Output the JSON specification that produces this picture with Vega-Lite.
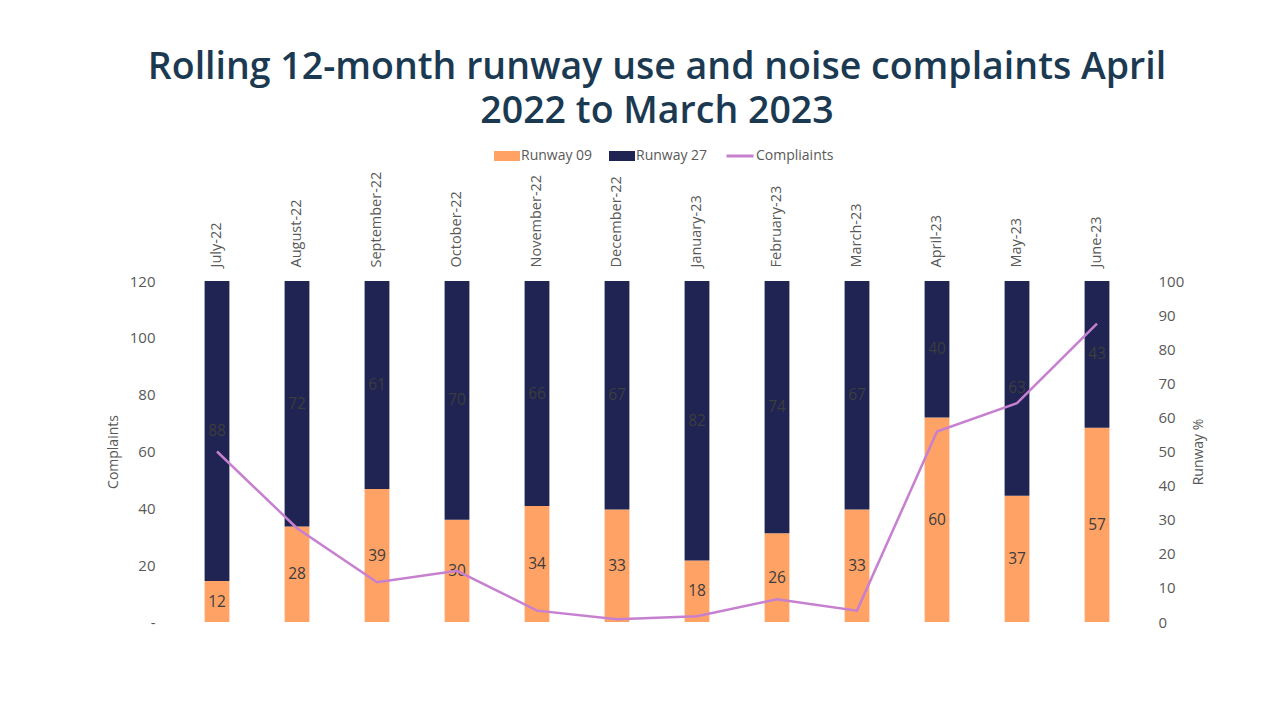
{
  "$schema": "https://vega.github.io/schema/vega-lite/v6.json",
  "width": 960,
  "height": 341,
  "autosize": {"type": "none"},
  "padding": {"left": 177, "top": 281, "right": 147, "bottom": 100},
  "background": "white",
  "config": {
    "view": {"stroke": null},
    "font": "Open Sans",
    "axis": {"domain": false, "ticks": false, "grid": false, "labelColor": "#595959", "titleColor": "#595959", "titleFontWeight": "normal", "labelFont": "Open Sans", "titleFont": "Open Sans", "labelOverlap": false}
  },
  "title": {
    "text": ["Rolling 12-month runway use and noise complaints April", "2022 to March 2023"],
    "font": "Open Sans",
    "fontSize": 37.5,
    "fontWeight": 600,
    "color": "#1b3a52",
    "anchor": "middle",
    "lineHeight": 44,
    "offset": 13,
    "dy": 2
  },
  "datasets": {
    "runway": [
      {"month": "July-22", "runway": "Runway 09", "pct": 12},
      {"month": "July-22", "runway": "Runway 27", "pct": 88},
      {"month": "August-22", "runway": "Runway 09", "pct": 28},
      {"month": "August-22", "runway": "Runway 27", "pct": 72},
      {"month": "September-22", "runway": "Runway 09", "pct": 39},
      {"month": "September-22", "runway": "Runway 27", "pct": 61},
      {"month": "October-22", "runway": "Runway 09", "pct": 30},
      {"month": "October-22", "runway": "Runway 27", "pct": 70},
      {"month": "November-22", "runway": "Runway 09", "pct": 34},
      {"month": "November-22", "runway": "Runway 27", "pct": 66},
      {"month": "December-22", "runway": "Runway 09", "pct": 33},
      {"month": "December-22", "runway": "Runway 27", "pct": 67},
      {"month": "January-23", "runway": "Runway 09", "pct": 18},
      {"month": "January-23", "runway": "Runway 27", "pct": 82},
      {"month": "February-23", "runway": "Runway 09", "pct": 26},
      {"month": "February-23", "runway": "Runway 27", "pct": 74},
      {"month": "March-23", "runway": "Runway 09", "pct": 33},
      {"month": "March-23", "runway": "Runway 27", "pct": 67},
      {"month": "April-23", "runway": "Runway 09", "pct": 60},
      {"month": "April-23", "runway": "Runway 27", "pct": 40},
      {"month": "May-23", "runway": "Runway 09", "pct": 37},
      {"month": "May-23", "runway": "Runway 27", "pct": 63},
      {"month": "June-23", "runway": "Runway 09", "pct": 57},
      {"month": "June-23", "runway": "Runway 27", "pct": 43}
    ],
    "complaints": [
      {"month": "July-22", "series": "Compliaints", "complaints": 60},
      {"month": "August-22", "series": "Compliaints", "complaints": 33},
      {"month": "September-22", "series": "Compliaints", "complaints": 14},
      {"month": "October-22", "series": "Compliaints", "complaints": 18},
      {"month": "November-22", "series": "Compliaints", "complaints": 4},
      {"month": "December-22", "series": "Compliaints", "complaints": 1},
      {"month": "January-23", "series": "Compliaints", "complaints": 2},
      {"month": "February-23", "series": "Compliaints", "complaints": 8},
      {"month": "March-23", "series": "Compliaints", "complaints": 4},
      {"month": "April-23", "series": "Compliaints", "complaints": 67},
      {"month": "May-23", "series": "Compliaints", "complaints": 77},
      {"month": "June-23", "series": "Compliaints", "complaints": 105}
    ]
  },
  "encoding": {
    "x": {
      "field": "month",
      "type": "nominal",
      "sort": null,
      "scale": {"paddingInner": 0.69, "paddingOuter": 0.345},
      "axis": {"orient": "top", "title": null, "labelAngle": -90, "labelFontSize": 14.5, "labelPadding": 14, "labelColor": "#595959"}
    }
  },
  "layer": [
    {
      "data": {"name": "runway"},
      "layer": [
        {
          "mark": {"type": "bar"},
          "encoding": {
            "y": {"field": "pct", "type": "quantitative", "stack": "zero", "scale": {"domain": [0, 100]}, "axis": {"orient": "right", "title": "Runway %", "titleAngle": 270, "values": [0,10,20,30,40,50,60,70,80,90,100], "labelFontSize": 15, "titleFontSize": 14, "labelPadding": 21, "titlePadding": 22}},
            "fill": {
              "field": "runway",
              "type": "nominal",
              "scale": {"domain": ["Runway 09", "Runway 27"], "range": ["#ffa265", "#1f2452"]},
              "legend": {"orient": "none", "direction": "horizontal", "legendX": 317, "legendY": -138, "title": null, "symbolType": "M-1,-0.385L1,-0.385L1,0.385L-1,0.385Z", "symbolSize": 676, "symbolStrokeWidth": 0, "labelFontSize": 14, "labelColor": "#595959", "labelOffset": 1, "columnPadding": 16, "labelFont": "Open Sans"}
            },
            "order": {"field": "runway", "sort": "ascending"}
          }
        },
        {
          "mark": {"type": "text", "fontSize": 15.5, "color": "#3d3d3d"},
          "encoding": {
            "y": {"field": "pct", "type": "quantitative", "stack": "zero", "bandPosition": 0.5, "axis": {"orient": "right", "title": "Runway %", "titleAngle": 270, "values": [0,10,20,30,40,50,60,70,80,90,100], "labelFontSize": 15, "titleFontSize": 14, "labelPadding": 21, "titlePadding": 22}},
            "text": {"field": "pct", "type": "quantitative"},
            "detail": {"field": "runway"},
            "order": {"field": "runway", "sort": "ascending"}
          }
        }
      ]
    },
    {
      "data": {"name": "complaints"},
      "mark": {"type": "line", "strokeWidth": 2.5},
      "encoding": {
        "y": {"field": "complaints", "type": "quantitative", "scale": {"domain": [0, 120]}, "axis": {"orient": "left", "title": "Complaints", "values": [0,20,40,60,80,100,120], "labelExpr": "datum.value == 0 ? '-' : datum.label", "labelFontSize": 15, "titleFontSize": 14, "labelPadding": 22, "titlePadding": 9}},
        "stroke": {
          "field": "series",
          "type": "nominal",
          "scale": {"domain": ["Compliaints"], "range": ["#c77fcf"]},
          "legend": {"orient": "none", "legendX": 548, "legendY": -140, "title": null, "symbolType": "stroke", "symbolSize": 729, "symbolStrokeWidth": 3, "labelFontSize": 14, "labelColor": "#595959", "labelOffset": 1, "labelFont": "Open Sans"}
        }
      }
    }
  ],
  "resolve": {"scale": {"y": "independent"}}
}
